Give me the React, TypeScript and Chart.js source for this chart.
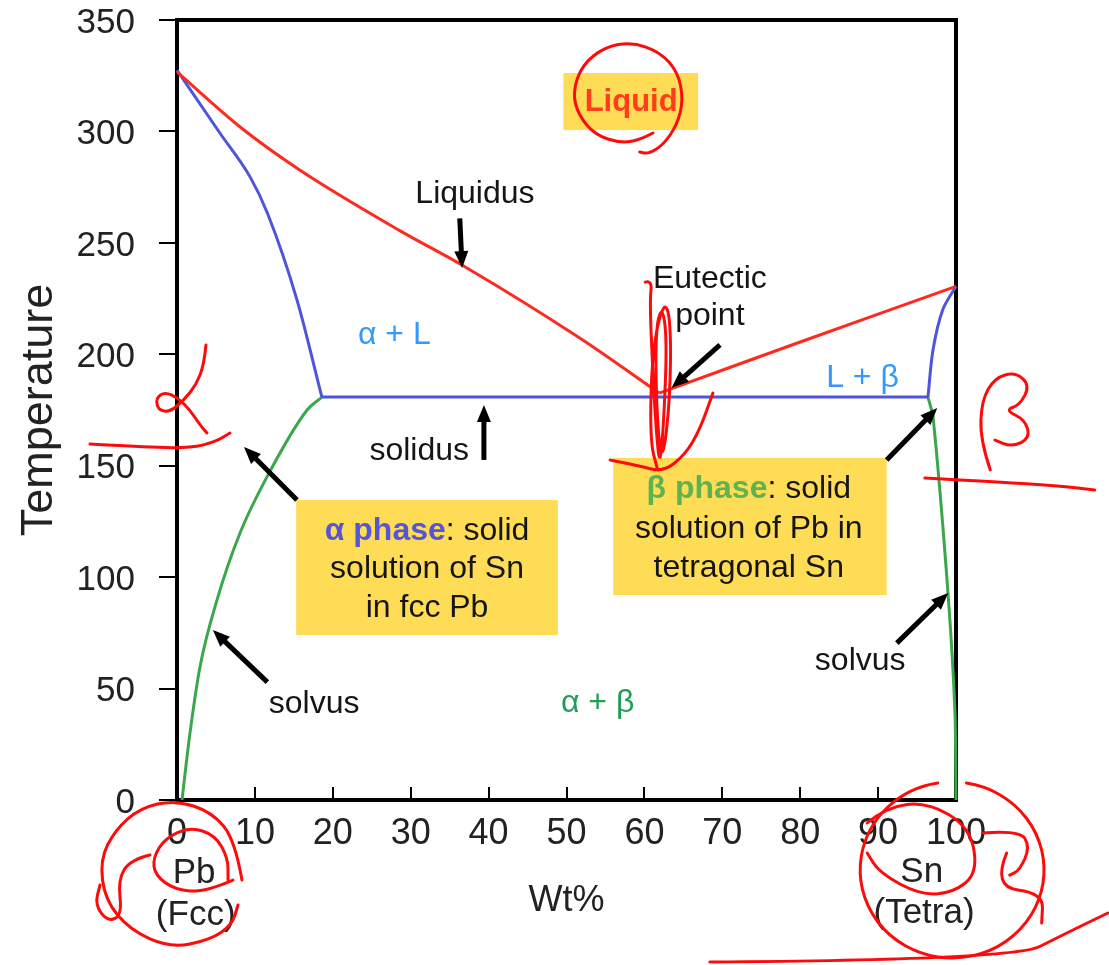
import React, { useEffect, useRef } from 'react';
import { Chart, registerables } from 'chart.js';

Chart.register(...registerables);

const FONT = '"Liberation Sans", Arial, Helvetica, sans-serif';

// ---- Axis ticks ----
const xTickValues = [0, 10, 20, 30, 40, 50, 60, 70, 80, 90, 100];
const yTickValues = [0, 50, 100, 150, 200, 250, 300, 350];

// ---- Phase boundaries (wt% Sn, temperature °C) ----
const liquidusLeftWt = [0, 8.1, 15.8, 28.6, 37.0, 51.7, 61.9];
const liquidusLeftT = [326.7, 302.0, 282.6, 255.5, 239.2, 207.3, 182.6];
const liquidusRightWt = [61.9, 80, 100];
const liquidusRightT = [182.6, 205.5, 230.5];

const alphaLiquidusWt = [0, 5.5, 9.4, 11.6, 15.4, 18.6];
const alphaLiquidusT = [327.5, 299.3, 279.5, 263.4, 224.4, 180.8];
const solidusWt = [18.6, 96.4];
const solidusT = [180.8, 180.8];
const betaLiquidusWt = [96.4, 97.05, 98.3, 100];
const betaLiquidusT = [180.8, 202, 220, 230.5];

const alphaSolvusWt = [0.64, 1.67, 2.95, 5.13, 8.09, 11.55, 16.7, 18.6];
const alphaSolvusT = [0, 30.1, 59.7, 89.7, 119.8, 145, 175, 180.8];
const betaSolvusWt = [96.4, 97.05, 98.97, 99.87, 100];
const betaSolvusT = [180.8, 172, 93, 39, 0];

// ---- Annotations (in data units) ----
const regionLabels = [
  { text: 'Liquidus', wt: 38.25, t: 268.0, color: '#151515' },
  { text: 'α + L', wt: 27.9, t: 204.6, color: '#3399ff' },
  { text: 'Eutectic', wt: 68.4, t: 229.7, color: '#151515' },
  { text: 'point', wt: 68.4, t: 213.1, color: '#151515' },
  { text: 'L + β', wt: 88.0, t: 185.3, color: '#3399ff' },
  { text: 'solidus', wt: 31.1, t: 152.6, color: '#151515' },
  { text: 'solvus', wt: 17.6, t: 39.0, color: '#151515' },
  { text: 'solvus', wt: 87.7, t: 58.3, color: '#151515' },
  { text: 'α + β', wt: 54.0, t: 39.5, color: '#1f9e55' },
];
const componentLabels = [
  { text: 'Pb', wt: 2.2, t: -37.2 },
  { text: '(Fcc)', wt: 2.4, t: -56.1 },
  { text: 'Sn', wt: 95.6, t: -36.8 },
  { text: '(Tetra)', wt: 95.9, t: -55.2 },
];
const yellowBoxes = [
  { wt0: 49.6, wt1: 66.9, t0: 300.6, t1: 326.2 },
  { wt0: 15.3, wt1: 48.9, t0: 74.0, t1: 134.6 },
  { wt0: 56.0, wt1: 91.1, t0: 92.0, t1: 153.5 },
];
const alphaBoxLines = [
  { t: 116.7, parts: [{ text: 'α phase', color: '#5555d5', bold: true }, { text: ': solid', color: '#151515', bold: false }] },
  { t: 99.6, parts: [{ text: 'solution of Sn', color: '#151515', bold: false }] },
  { t: 82.1, parts: [{ text: 'in fcc Pb', color: '#151515', bold: false }] },
];
const betaBoxLines = [
  { t: 135.5, parts: [{ text: 'β phase', color: '#5db350', bold: true }, { text: ': solid', color: '#151515', bold: false }] },
  { t: 117.6, parts: [{ text: 'solution of Pb in', color: '#151515', bold: false }] },
  { t: 100.1, parts: [{ text: 'tetragonal Sn', color: '#151515', bold: false }] },
];
const arrows = [
  [36.3, 261.0, 36.6, 238.7],
  [69.7, 204.2, 63.5, 185.0],
  [39.4, 152.6, 39.4, 177.2],
  [15.4, 134.6, 8.6, 158.4],
  [91.1, 152.6, 97.6, 175.9],
  [11.6, 52.9, 4.6, 76.3],
  [92.4, 70.4, 99.0, 92.9],
];

// hand-drawn red marks
const scribbles: number[][][] = [
  [[61.1, 299.3], [59.4, 296.1], [56.9, 294.8], [53.7, 298.4], [51.5, 307.4], [50.8, 317.7], [52.0, 329.8], [54.9, 337.9], [58.4, 340.1], [62.0, 335.6], [64.3, 326.7], [65.0, 314.1], [64.2, 302.9], [62.4, 293.9], [60.5, 289.9], [59.4, 290.8]],
  [[3.72, 204.2], [3.47, 195.2], [2.44, 186.2], [0.9, 179.5], [-0.9, 174.1], [-2.44, 175.0], [-2.7, 180.4], [-1.54, 183.1], [0.13, 180.4], [1.67, 175.0], [2.95, 168.3], [3.85, 164.7]],
  [[-11.17, 159.7], [-4.75, 158.4], [1.67, 157.9], [4.88, 160.6], [6.8, 164.7]],
  [[60.1, 232.4], [61.0, 233.3], [60.7, 224.4], [61.0, 197.4], [61.5, 166.0], [62.0, 149.0], [62.5, 170.5], [62.9, 206.4], [62.3, 222.1], [61.4, 210.9], [61.6, 170.5], [62.3, 150.3], [63.3, 179.5], [63.4, 215.4], [62.5, 224.4], [61.0, 201.9], [60.7, 161.5], [61.7, 148.1]],
  [[55.6, 152.6], [59.4, 149.9], [62.4, 147.2], [65.2, 154.8], [67.1, 166.0], [68.8, 182.6]],
  [[104.4, 148.1], [103.1, 161.5], [103.3, 179.5], [105.0, 189.4], [107.6, 192.0], [109.5, 186.2], [108.2, 177.2], [106.3, 175.0], [108.9, 170.5], [109.5, 162.4], [107.2, 158.4], [105.0, 161.5]],
  [[96.0, 144.5], [105.6, 142.7], [113.4, 140.9], [117.8, 139.1]],
  [[8.34, -35.9], [7.45, -17.9], [4.49, -5.38], [-0.26, 0], [-4.75, -3.6], [-7.96, -13.5], [-9.88, -26.9], [-9.24, -44.9], [-6.03, -58.3], [-0.9, -66.4], [4.24, -62.8], [7.06, -56.1], [7.83, -47.1]],
  [[7.19, -35.9], [3.6, -41.3], [-0.26, -40.4], [-2.82, -33.7], [-3.08, -26.0], [-1.54, -17.1], [1.67, -12.1], [4.88, -15.7], [6.55, -26.0], [6.55, -35.9]],
  [[-3.47, -24.7], [-6.03, -26.9], [-7.57, -35.9], [-7.06, -51.6], [-8.86, -54.7], [-10.53, -47.1], [-9.88, -38.1]],
  [[88.6, -10.3], [91.1, -3.1], [96.3, -0.9], [101.8, -12.1], [102.8, -32.8], [99.6, -41.7], [95.4, -42.6], [90.2, -32.8], [88.6, -23.8]],
  [[103.5, -14.8], [108.2, -13.5], [109.5, -21.1], [108.2, -31.4], [106.9, -33.7]],
  [[106.5, -23.8], [104.7, -39.0], [111.2, -41.7], [111.0, -55.2]],
  [[68.4, -72.7], [107.3, -71.8], [114.2, -59.7], [119.5, -50.7]],
];
const scribbleEllipses = [{ wt: 99.5, t: -31.4, rwt: 11.8, rt: 39.5 }];

function pts(xs: number[], ys: number[]) {
  return xs.map((x, i) => ({ x, y: ys[i] }));
}

function smoothStroke(ctx: CanvasRenderingContext2D, p: number[][]) {
  ctx.beginPath();
  ctx.moveTo(p[0][0], p[0][1]);
  for (let i = 1; i < p.length - 1; i++) {
    const mx = (p[i][0] + p[i + 1][0]) / 2;
    const my = (p[i][1] + p[i + 1][1]) / 2;
    ctx.quadraticCurveTo(p[i][0], p[i][1], mx, my);
  }
  const l = p[p.length - 1];
  ctx.lineTo(l[0], l[1]);
  ctx.stroke();
}

function drawArrow(ctx: CanvasRenderingContext2D, x1: number, y1: number, x2: number, y2: number) {
  const ang = Math.atan2(y2 - y1, x2 - x1);
  const head = 17;
  const hw = 7;
  const bx = x2 - head * Math.cos(ang);
  const by = y2 - head * Math.sin(ang);
  ctx.strokeStyle = '#000';
  ctx.fillStyle = '#000';
  ctx.lineWidth = 5;
  ctx.lineCap = 'butt';
  ctx.beginPath();
  ctx.moveTo(x1, y1);
  ctx.lineTo(bx + 2 * Math.cos(ang), by + 2 * Math.sin(ang));
  ctx.stroke();
  ctx.beginPath();
  ctx.moveTo(x2, y2);
  ctx.lineTo(bx + hw * Math.sin(ang), by - hw * Math.cos(ang));
  ctx.lineTo(bx - hw * Math.sin(ang), by + hw * Math.cos(ang));
  ctx.closePath();
  ctx.fill();
}

const phasePlugin = {
  id: 'phaseAnnotations',
  beforeDatasetsDraw(chart: any) {
    const { ctx, chartArea } = chart;
    ctx.save();
    ctx.strokeStyle = '#000';
    ctx.lineWidth = 4;
    ctx.strokeRect(chartArea.left, chartArea.top, chartArea.right - chartArea.left, chartArea.bottom - chartArea.top);
    ctx.restore();
  },
  afterDatasetsDraw(chart: any) {
    const { ctx } = chart;
    const xs = chart.scales.x;
    const ys = chart.scales.y;
    const px = (v: number) => xs.getPixelForValue(v);
    const py = (v: number) => ys.getPixelForValue(v);
    ctx.save();
    ctx.fillStyle = '#fedc56';
    yellowBoxes.forEach((b) => {
      ctx.fillRect(px(b.wt0), py(b.t1), px(b.wt1) - px(b.wt0), py(b.t0) - py(b.t1));
    });
    ctx.textBaseline = 'alphabetic';
    ctx.textAlign = 'center';
    ctx.font = `bold 31px ${FONT}`;
    ctx.fillStyle = '#ff3d1a';
    ctx.fillText('Liquid', px(58.3), py(309.1));
    ctx.font = `32px ${FONT}`;
    regionLabels.forEach((l) => {
      ctx.fillStyle = l.color;
      ctx.fillText(l.text, px(l.wt), py(l.t));
    });
    ctx.font = `35px ${FONT}`;
    ctx.fillStyle = '#222';
    componentLabels.forEach((l) => ctx.fillText(l.text, px(l.wt), py(l.t)));
    const rich = (lines: any[], cwt: number) => {
      ctx.textAlign = 'left';
      lines.forEach((line) => {
        const widths = line.parts.map((p: any) => {
          ctx.font = `${p.bold ? 'bold ' : ''}32px ${FONT}`;
          return ctx.measureText(p.text).width;
        });
        const total = widths.reduce((a: number, b: number) => a + b, 0);
        let x = px(cwt) - total / 2;
        line.parts.forEach((p: any, i: number) => {
          ctx.font = `${p.bold ? 'bold ' : ''}32px ${FONT}`;
          ctx.fillStyle = p.color;
          ctx.fillText(p.text, x, py(line.t));
          x += widths[i];
        });
      });
      ctx.textAlign = 'center';
    };
    rich(alphaBoxLines, 32.1);
    rich(betaBoxLines, 73.4);
    arrows.forEach((a) => drawArrow(ctx, px(a[0]), py(a[1]), px(a[2]), py(a[3])));
    ctx.restore();
  },
  afterDraw(chart: any) {
    const { ctx } = chart;
    const xs = chart.scales.x;
    const ys = chart.scales.y;
    ctx.save();
    ctx.strokeStyle = '#ff0a0a';
    ctx.lineWidth = 3;
    ctx.lineCap = 'round';
    ctx.lineJoin = 'round';
    scribbles.forEach((s) => {
      smoothStroke(ctx, s.map((p) => [xs.getPixelForValue(p[0]), ys.getPixelForValue(p[1])]));
    });
    scribbleEllipses.forEach((e) => {
      const cx = xs.getPixelForValue(e.wt);
      const cy = ys.getPixelForValue(e.t);
      const rx = Math.abs(xs.getPixelForValue(e.wt + e.rwt) - cx);
      const ry = Math.abs(ys.getPixelForValue(e.t + e.rt) - cy);
      ctx.beginPath();
      ctx.ellipse(cx, cy, rx, ry, 0, -Math.PI * 0.45, Math.PI * 1.45);
      ctx.stroke();
    });
    ctx.restore();
  },
};

function line(data: any[], color: string, tension: number, monotone = false) {
  return {
    data,
    showLine: true,
    borderColor: color,
    backgroundColor: color,
    borderWidth: 3,
    pointRadius: 0,
    tension,
    cubicInterpolationMode: monotone ? 'monotone' : 'default',
    fill: false,
    clip: false,
  };
}

export default function App() {
  const ref = useRef<HTMLCanvasElement | null>(null);
  useEffect(() => {
    if (!ref.current) return;
    const red = '#ff2a1f';
    const blue = '#4f55d8';
    const green = '#3aa74a';
    const chart = new Chart(ref.current, {
      type: 'scatter',
      data: {
        datasets: [
          line(pts(liquidusLeftWt, liquidusLeftT), red, 0.3, true),
          line(pts(liquidusRightWt, liquidusRightT), red, 0.2),
          line(pts(alphaLiquidusWt, alphaLiquidusT), blue, 0.3, true),
          line(pts(solidusWt, solidusT), blue, 0),
          line(pts(betaLiquidusWt, betaLiquidusT), blue, 0.3),
          line(pts(alphaSolvusWt, alphaSolvusT), green, 0.3, true),
          line(pts(betaSolvusWt, betaSolvusT), green, 0.2),
        ] as any,
      },
      options: {
        animation: false,
        responsive: false,
        devicePixelRatio: 1,
        events: [],
        layout: { padding: { left: 0, top: 20, right: 153, bottom: 42 } },
        plugins: { legend: { display: false }, tooltip: { enabled: false } },
        scales: {
          x: {
            type: 'linear',
            min: 0,
            max: 100,
            afterBuildTicks: (s: any) => {
              s.ticks = xTickValues.map((v) => ({ value: v }));
            },
            afterFit: (s: any) => {
              s.height = 123;
              s.paddingLeft = 0;
              s.paddingRight = 0;
            },
            grid: { drawOnChartArea: false, drawTicks: true, tickLength: -13, color: '#000', lineWidth: 2 },
            border: { display: false },
            ticks: { font: { size: 36, family: FONT }, color: '#222', padding: 25, maxRotation: 0, autoSkip: false },
            title: { display: true, text: 'Wt%', font: { size: 36, family: FONT }, color: '#222', padding: { top: 0, bottom: 0 } },
          },
          y: {
            type: 'linear',
            min: 0,
            max: 350,
            afterBuildTicks: (s: any) => {
              s.ticks = yTickValues.map((v) => ({ value: v }));
            },
            afterFit: (s: any) => {
              s.width = 177;
              s.paddingTop = 0;
              s.paddingBottom = 0;
            },
            grid: { drawOnChartArea: false, drawTicks: true, tickLength: 18, color: '#000', lineWidth: 2 },
            border: { display: false },
            ticks: { font: { size: 35, family: FONT }, color: '#222', padding: 24, labelOffset: 3, autoSkip: false },
            title: { display: true, text: 'Temperature', font: { size: 45, family: FONT }, color: '#222', padding: { top: 13, bottom: 0 } },
          },
        },
      } as any,
      plugins: [phasePlugin],
    });
    return () => chart.destroy();
  }, []);
  return (
    <div style={{ position: 'absolute', left: 0, top: 0, width: 1109, height: 965, background: '#fff' }}>
      <canvas ref={ref} width={1109} height={965} style={{ display: 'block' }} />
    </div>
  );
}
